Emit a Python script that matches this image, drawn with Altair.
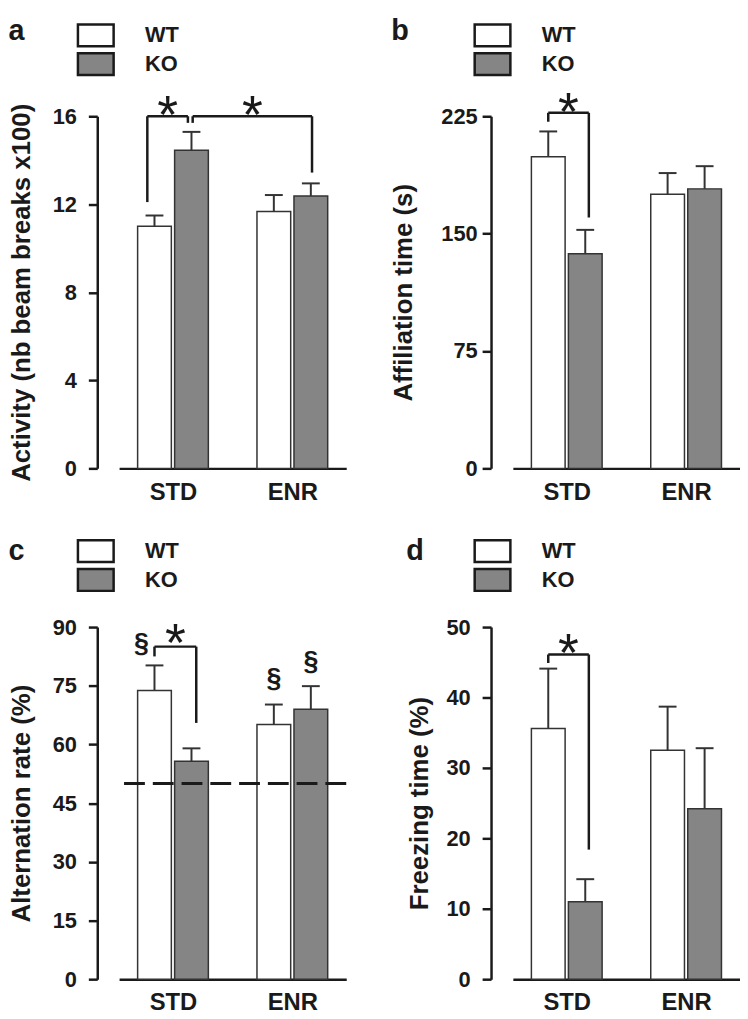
import altair as alt
import pandas as pd

conditions = ["STD", "ENR"]
genotypes = ["WT", "KO"]
fill_colors = ["#ffffff", "#858585"]

# ---- panel a : activity ----
a_wt = [11.0, 11.67]
a_ko = [14.45, 12.38]
a_wt_err = [0.49, 0.75]
a_ko_err = [0.84, 0.57]
a_ticks = [0, 4, 8, 12, 16]

# ---- panel b : affiliation ----
b_wt = [199.1, 175.2]
b_ko = [137.1, 178.6]
b_wt_err = [16.2, 13.5]
b_ko_err = [15.3, 14.5]
b_ticks = [0, 75, 150, 225]

# ---- panel c : alternation ----
c_wt = [73.8, 65.1]
c_ko = [55.7, 69.0]
c_wt_err = [6.4, 5.1]
c_ko_err = [3.3, 5.9]
c_ticks = [0, 15, 30, 45, 60, 75, 90]
c_chance = [50]

# ---- panel d : freezing ----
d_wt = [35.6, 32.5]
d_ko = [11.0, 24.2]
d_wt_err = [8.5, 6.2]
d_ko_err = [3.2, 8.6]
d_ticks = [0, 10, 20, 30, 40, 50]

# brackets: (left bar, right bar, top, left leg bottom, right leg bottom, left nudge, right nudge)
a_brackets = [
    (("STD", "WT"), ("STD", "KO"), 16.0, 12.1, 15.7, -0.06, -0.03),
    (("STD", "KO"), ("ENR", "KO"), 16.0, 15.7, 13.44, 0.01, 0.01),
]
b_brackets = [(("STD", "WT"), ("STD", "KO"), 227.2, 221.5, 160.3, 0.0, 0.03)]
c_brackets = [(("STD", "WT"), ("STD", "KO"), 85.0, 82.5, 65.5, 0.0, 0.04)]
d_brackets = [(("STD", "WT"), ("STD", "KO"), 46.1, 44.9, 18.4, 0.0, 0.03)]

# significance stars (glyph centre value) per bracket
a_stars = [16.5, 16.5]
b_stars = [234.1]
c_stars = [88.4]
d_stars = [47.7]

# section signs: (condition, genotype, nudge, value at glyph centre)
c_sections = [("STD", "WT", -0.11, 85.3), ("ENR", "WT", 0.0, 76.5), ("ENR", "KO", 0.0, 80.9)]

cond_pos = {"STD": 1.0, "ENR": 2.0}
geno_shift = {"WT": -0.155, "KO": 0.155}
X_DOMAIN = [0.59, 2.41]

STAR_SIZE = 54
SEC_SIZE = 27
INK = "#1a1a1a"


def xpos(key, nudge=0.0):
    return cond_pos[key[0]] + geno_shift[key[1]] + nudge


def make_panel(letter, ytitle, ymax, ticks, wt, ko, wt_err, ko_err, brackets, stars,
               sections, dashed, leg_x, leg_y, label_pad, title_pad, letter_dy):
    rows = []
    for i, c in enumerate(conditions):
        rows.append({"cond": c, "geno": "WT", "pos": xpos((c, "WT")), "mean": wt[i], "top": wt[i] + wt_err[i]})
        rows.append({"cond": c, "geno": "KO", "pos": xpos((c, "KO")), "mean": ko[i], "top": ko[i] + ko_err[i]})
    bars_df = pd.DataFrame(rows)

    segs = []
    star_rows = []
    for (l, r, top, lb, rb, ln, rn), s in zip(brackets, stars):
        xl, xr = xpos(l, ln), xpos(r, rn)
        segs.append({"x": xl, "x2": xl, "y": lb, "y2": top})
        segs.append({"x": xl, "x2": xr, "y": top, "y2": top})
        segs.append({"x": xr, "x2": xr, "y": rb, "y2": top})
        star_rows.append({"x": (xl + xr) / 2, "y": s, "t": "*"})
    seg_df = pd.DataFrame(segs)
    star_df = pd.DataFrame(star_rows)

    xs = alt.Scale(domain=X_DOMAIN, nice=False, zero=False)
    ys = alt.Scale(domain=[0, ymax], nice=False)

    xaxis = alt.Axis(values=[1, 2], labelExpr="datum.value == 1 ? 'STD' : 'ENR'", ticks=False,
                     grid=False, title=None, labelPadding=12, labelFlush=False, labelFontSize=24)
    yaxis = alt.Axis(values=ticks, offset=22, tickSize=9, grid=False, labelPadding=label_pad,
                     titlePadding=title_pad, format="d")

    legend = alt.Legend(
        orient="none", legendX=leg_x, legendY=leg_y, title=None, direction="vertical",
        symbolType="M-1.636,-1L1.636,-1L1.636,1L-1.636,1Z", symbolSize=484,
        symbolStrokeColor=INK, symbolStrokeWidth=2.5, labelFontSize=22, labelFontWeight="bold",
        labelColor=INK, labelOffset=37, rowPadding=-5, padding=0,
    )

    base = alt.Chart(bars_df)
    bars = base.mark_bar(size=34, stroke="#333333", strokeWidth=1.5, orient="vertical").encode(
        x=alt.X("pos:Q", scale=xs, axis=xaxis),
        y=alt.Y("mean:Q", scale=ys, axis=yaxis, title=ytitle),
        color=alt.Color("geno:N", scale=alt.Scale(domain=genotypes, range=fill_colors), legend=legend),
    )
    err = base.mark_rule(color="#333333", strokeWidth=2).encode(
        x="pos:Q", y="mean:Q", y2="top:Q"
    )
    caps = base.mark_tick(orient="horizontal", size=18, thickness=2, color="#333333", opacity=1).encode(
        x="pos:Q", y="top:Q"
    )
    br = alt.Chart(seg_df).mark_rule(color=INK, strokeWidth=2.5).encode(
        x="x:Q", x2="x2:Q", y="y:Q", y2="y2:Q"
    )
    st = alt.Chart(star_df).mark_text(fontSize=STAR_SIZE, font="Liberation Sans", color=INK,
                                      baseline="alphabetic", dy=round(0.52 * STAR_SIZE)).encode(
        x="x:Q", y="y:Q", text="t:N"
    )
    layers = [bars, err, caps, br, st]
    if dashed:
        dash_df = pd.DataFrame({"v": dashed})
        layers.append(alt.Chart(dash_df).mark_rule(color=INK, strokeWidth=3, strokeDash=[21, 8]).encode(
            y="v:Q"))
    if sections:
        sec_df = pd.DataFrame([{"x": xpos((c, g), n), "y": v, "t": "§"} for c, g, n, v in sections])
        layers.append(alt.Chart(sec_df).mark_text(fontSize=SEC_SIZE, fontWeight="bold", color=INK,
                                                  baseline="alphabetic", dy=round(0.25 * SEC_SIZE)).encode(
            x="x:Q", y="y:Q", text="t:N"))

    return alt.layer(*layers).properties(
        width=229, height=355,
        title=alt.TitleParams(text=letter, anchor="start", frame="bounds", fontSize=29,
                              fontWeight="bold", color=INK, offset=0, baseline="alphabetic",
                              dy=letter_dy),
    )


pa = make_panel("a", "Activity (nb beam breaks x100)", 16, a_ticks, a_wt, a_ko, a_wt_err, a_ko_err,
                a_brackets, a_stars, None, None, -36, -94, 12, 18, 46)
pb = make_panel("b", "Affiliation time (s)", 225, b_ticks, b_wt, b_ko, b_wt_err, b_ko_err,
                b_brackets, b_stars, None, None, -33, -94, 5, 24, 46)
pc = make_panel("c", "Alternation rate (%)", 90, c_ticks, c_wt, c_ko, c_wt_err, c_ko_err,
                c_brackets, c_stars, c_sections, c_chance, -36, -89, 12, 18, 50)
pd_ = make_panel("d", "Freezing time (%)", 50, d_ticks, d_wt, d_ko, d_wt_err, d_ko_err,
                 d_brackets, d_stars, None, None, -33, -89, 12, 14, 50)

chart = alt.concat(pa, pb, pc, pd_, columns=2, spacing={"row": 160, "column": 168}, bounds="flush").resolve_scale(
    color="independent", x="independent", y="independent"
).resolve_legend(color="independent").properties(
    padding={"top": 5, "left": 0, "right": 0, "bottom": 0}
).configure(
    font="Liberation Sans"
).configure_view(stroke=None).configure_axis(
    domainColor=INK, domainWidth=2.5, tickColor=INK, tickWidth=2.5, labelColor=INK, titleColor=INK,
    labelFontSize=22, labelFontWeight="bold", titleFontSize=26, titleFontWeight="bold",
    labelFont="Liberation Sans", titleFont="Liberation Sans",
)

chart.save("out.html", embed_options={"renderer": "svg", "actions": False})
